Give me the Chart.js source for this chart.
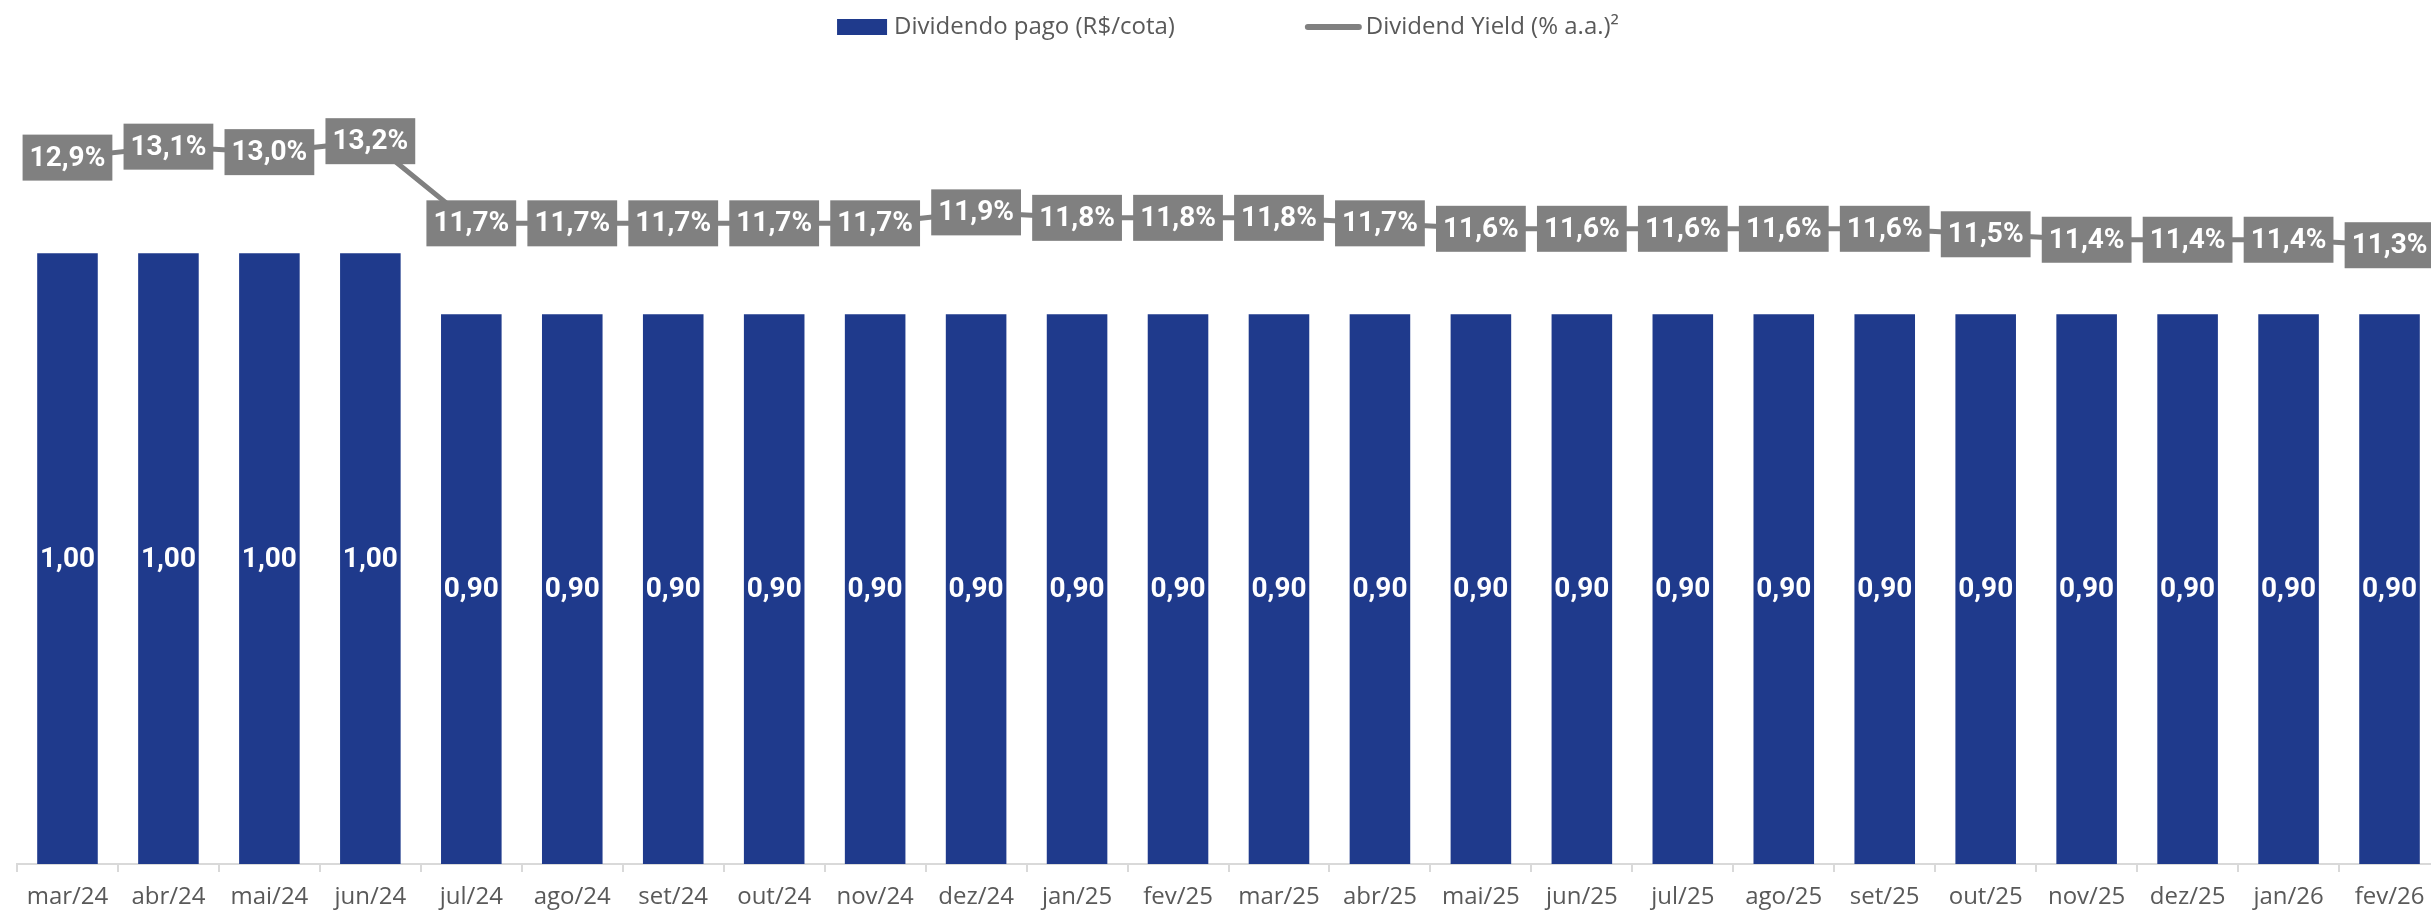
<!DOCTYPE html>
<html>
<head>
<meta charset="utf-8">
<script src="https://cdn.jsdelivr.net/npm/chart.js@4.4.1/dist/chart.umd.min.js"></script>
<style>
  html, body { margin: 0; padding: 0; background: #fff; overflow: hidden; }
  #wrap { width: 2440px; height: 911px; position: relative; }
</style>
</head>
<body>
<div id="wrap"><canvas id="dividendChart"></canvas></div>
<script>
// months shown on the x axis
const months = ["mar/24", "abr/24", "mai/24", "jun/24", "jul/24", "ago/24", "set/24", "out/24",
    "nov/24", "dez/24", "jan/25", "fev/25", "mar/25", "abr/25", "mai/25", "jun/25",
    "jul/25", "ago/25", "set/25", "out/25", "nov/25", "dez/25", "jan/26", "fev/26"];
// dividend paid per quota (R$)
const dividends = [1.00, 1.00, 1.00, 1.00, 0.90, 0.90, 0.90, 0.90, 0.90, 0.90, 0.90, 0.90,
    0.90, 0.90, 0.90, 0.90, 0.90, 0.90, 0.90, 0.90, 0.90, 0.90, 0.90, 0.90];
// dividend yield (% a.a.)
const yields = [12.9, 13.1, 13.0, 13.2, 11.7, 11.7, 11.7, 11.7, 11.7, 11.9, 11.8, 11.8,
    11.8, 11.7, 11.6, 11.6, 11.6, 11.6, 11.6, 11.5, 11.4, 11.4, 11.4, 11.3];

const barLabel = "Dividendo pago (R$/cota)";
const lineLabel = "Dividend Yield (% a.a.)\u00b2";

const BLUE = "#1f3a8c";
const GREY = "#808080";
const TEXT = "#595959";

const fmt = (v, d) => v.toFixed(d).replace(".", ",");

// white values inside bars, grey boxes on the yield line
const valueLabels = {
    id: "valueLabels",
    afterDatasetsDraw(chart) {
        const ctx = chart.ctx;
        ctx.save();
        ctx.font = "bold 28px Roboto";
        ctx.textAlign = "center";
        ctx.textBaseline = "middle";
        chart.getDatasetMeta(0).data.forEach((bar, i) => {
            ctx.fillStyle = "#ffffff";
            ctx.fillText(fmt(dividends[i], 2), bar.x, (bar.y + bar.base) / 2 + 1);
        });
        chart.getDatasetMeta(1).data.forEach((pt, i) => {
            const text = fmt(yields[i], 1) + "%";
            const w = ctx.measureText(text).width + 14;
            const h = 46;
            ctx.fillStyle = GREY;
            ctx.fillRect(pt.x - w / 2, pt.y - h / 2, w, h);
            ctx.fillStyle = "#ffffff";
            ctx.fillText(text, pt.x, pt.y + 1);
        });
        ctx.restore();
    }
};

// legend row at the top
const legendRow = {
    id: "legendRow",
    afterDraw(chart) {
        const ctx = chart.ctx;
        ctx.save();
        ctx.font = "24px 'Open Sans'";
        ctx.textBaseline = "middle";
        const y = 27;
        const w1 = 50 + 7 + ctx.measureText(barLabel).width;
        const w2 = 57 + 4 + ctx.measureText(lineLabel).width;
        const gap = 130;
        let x = 1228 - (w1 + gap + w2) / 2;
        ctx.fillStyle = BLUE;
        ctx.fillRect(x, y - 8, 50, 16);
        ctx.fillStyle = TEXT;
        ctx.fillText(barLabel, x + 57, y);
        x += w1 + gap;
        ctx.strokeStyle = GREY;
        ctx.lineWidth = 6;
        ctx.lineCap = "round";
        ctx.beginPath();
        ctx.moveTo(x + 3, y);
        ctx.lineTo(x + 54, y);
        ctx.stroke();
        ctx.fillStyle = TEXT;
        ctx.fillText(lineLabel, x + 61, y);
        ctx.restore();
    }
};

const chart = new Chart(document.getElementById("dividendChart").getContext("2d"), {
    type: "bar",
    data: {
        labels: months,
        datasets: [{
            type: "bar",
            label: barLabel,
            data: dividends,
            backgroundColor: BLUE,
            yAxisID: "y",
            categoryPercentage: 1,
            barPercentage: 0.6,
            order: 1
        }, {
            type: "line",
            label: lineLabel,
            data: yields,
            borderColor: GREY,
            borderWidth: 5,
            pointRadius: 0,
            tension: 0,
            yAxisID: "y2",
            order: 0
        }]
    },
    options: {
        responsive: true,
        maintainAspectRatio: false,
        animation: false,
        layout: { padding: { top: 70, left: 17, right: 0, bottom: 0 } },
        plugins: {
            legend: { display: false },
            tooltip: { enabled: false }
        },
        scales: {
            x: {
                grid: { offset: true, drawOnChartArea: false, drawTicks: true, tickLength: 8, color: "#d9d9d9", lineWidth: 2 },
                border: { color: "#d9d9d9", width: 2 },
                ticks: { color: TEXT, font: { family: "'Open Sans'", size: 24 }, padding: 11, maxRotation: 0, autoSkip: false },
                afterFit(scale) { scale.height = 47; }
            },
            y: { display: false, min: 0, max: 1.3 },
            y2: { display: false, min: 0, max: 14.5, position: "right" }
        }
    },
    plugins: [valueLabels, legendRow]
});
</script>
</body>
</html>
